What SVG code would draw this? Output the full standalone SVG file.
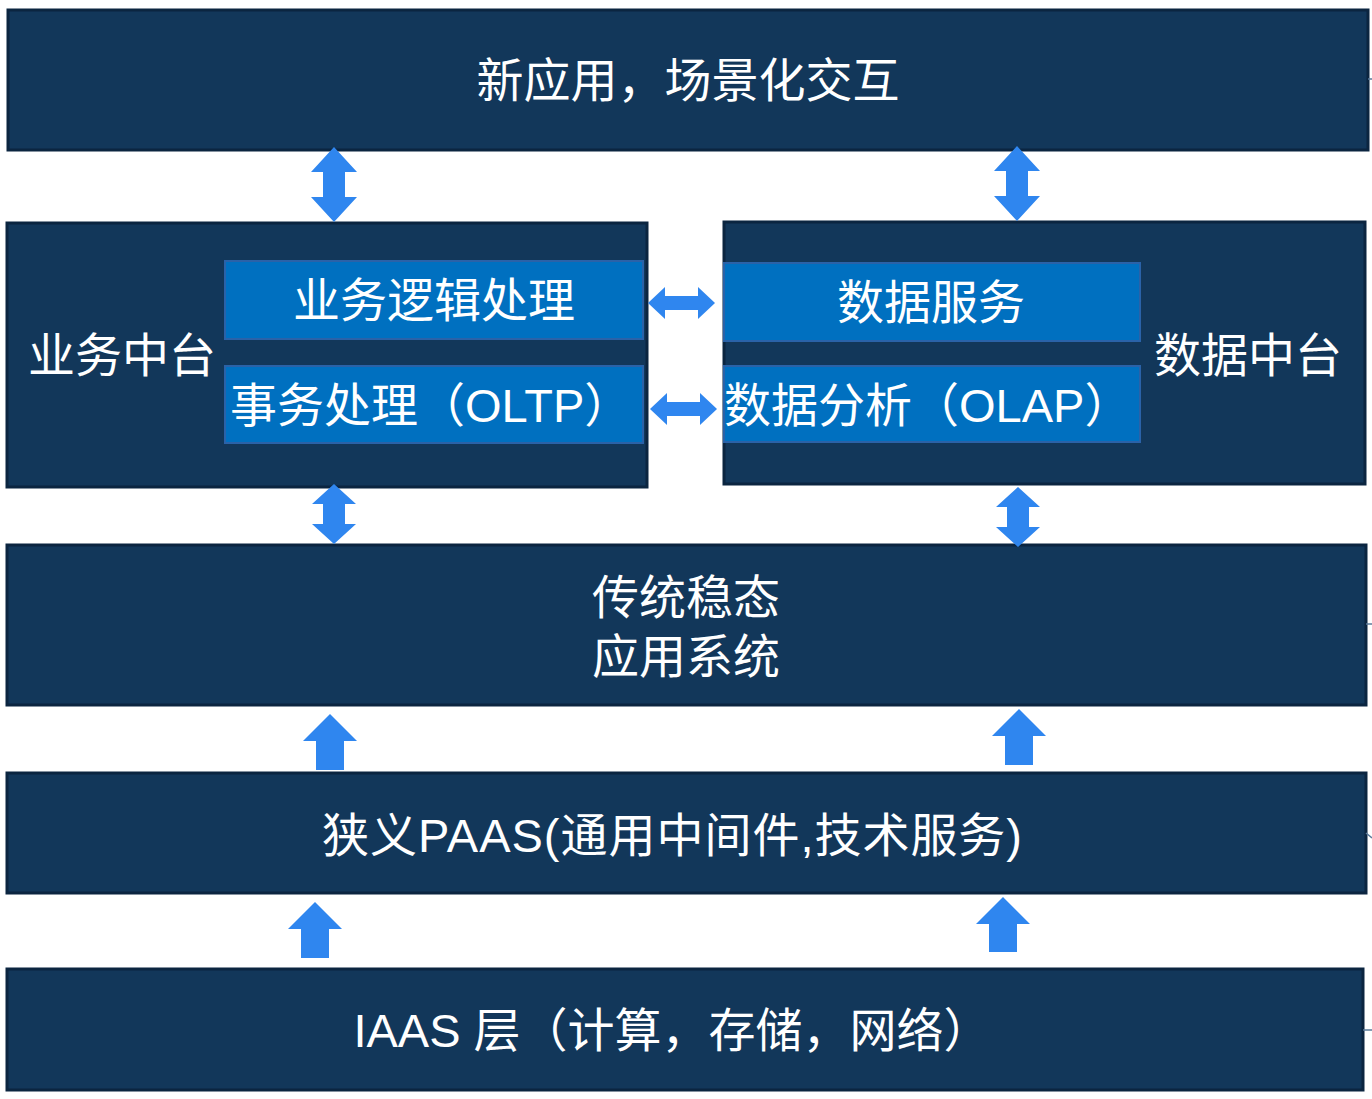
<svg xmlns="http://www.w3.org/2000/svg" width="1372" height="1099" viewBox="0 0 1372 1099">
<style>
.box{fill:#12375a;stroke:#0b2540;stroke-width:3}
.inner{fill:#0070c0;stroke:#2a62a8;stroke-width:2}
.t{fill:#ffffff;font-family:"Liberation Sans","Noto Sans CJK SC",sans-serif;font-size:47px;text-anchor:middle;dominant-baseline:central}
.arr{fill:#2f86ef}
.stub{stroke:#5a7a9a;stroke-width:1.5}
</style>
<rect width="1372" height="1099" fill="#ffffff"/>
<g id="top">
<rect class="box" x="8" y="10" width="1360" height="140"/>
<text class="t" x="688" y="80">新应用，场景化交互</text>
</g>
<g id="biz">
<rect class="box" x="7" y="223" width="640" height="264"/>
<text class="t" x="122" y="355">业务中台</text>
</g>
<g id="biz-logic">
<rect class="inner" x="225" y="261" width="418" height="78"/>
<text class="t" x="434" y="300">业务逻辑处理</text>
</g>
<g id="oltp">
<rect class="inner" x="225" y="366" width="418" height="77"/>
<text class="t" x="230" y="405" style="text-anchor:start">事务处理（OLTP）</text>
</g>
<g id="data">
<rect class="box" x="724" y="222" width="641" height="262"/>
<text class="t" x="1248" y="355">数据中台</text>
</g>
<g id="data-svc">
<rect class="inner" x="724" y="263" width="416" height="78"/>
<text class="t" x="931" y="302">数据服务</text>
</g>
<g id="olap">
<rect class="inner" x="724" y="366" width="416" height="76"/>
<text class="t" x="724" y="405" style="text-anchor:start">数据分析（OLAP）</text>
</g>
<g id="legacy">
<rect class="box" x="7" y="545" width="1359" height="160"/>
<text class="t" x="686" y="597">传统稳态</text>
<text class="t" x="686" y="656">应用系统</text>
</g>
<g id="paas">
<rect class="box" x="7" y="773" width="1359" height="120"/>
<text class="t" x="672" y="835" textLength="700" lengthAdjust="spacing">狭义PAAS(通用中间件,技术服务)</text>
</g>
<g id="iaas">
<rect class="box" x="7" y="969" width="1356" height="121"/>
<text class="t" x="672" y="1030">IAAS 层（计算，存储，网络）</text>
</g>
<g id="connectors">
<path class="arr" d="M334,147 L357,172 L345,172 L345,197 L357,197 L334,222 L311,197 L323,197 L323,172 L311,172 Z"/>
<path class="arr" d="M1017,146 L1040,171 L1028,171 L1028,196 L1040,196 L1017,221 L994,196 L1006,196 L1006,171 L994,171 Z"/>
<path class="arr" d="M648,303 L665,287 L665,296 L698,296 L698,287 L715,303 L698,319 L698,310 L665,310 L665,319 Z"/>
<path class="arr" d="M650,409 L667,393 L667,402 L700,402 L700,393 L717,409 L700,425 L700,416 L667,416 L667,425 Z"/>
<path class="arr" d="M334,484 L356,504 L345,504 L345,524 L356,524 L334,544 L312,524 L323,524 L323,504 L312,504 Z"/>
<path class="arr" d="M1018,487 L1040,507 L1029,507 L1029,527 L1040,527 L1018,547 L996,527 L1007,527 L1007,507 L996,507 Z"/>
<path class="arr" d="M330,714 L357,741 L344,741 L344,770 L316,770 L316,741 L303,741 Z"/>
<path class="arr" d="M1019,709 L1046,736 L1033,736 L1033,765 L1005,765 L1005,736 L992,736 Z"/>
<path class="arr" d="M315,902 L342,929 L329,929 L329,958 L301,958 L301,929 L288,929 Z"/>
<path class="arr" d="M1003,897 L1030,924 L1017,924 L1017,952 L989,952 L989,924 L976,924 Z"/>
<line class="stub" x1="1368" y1="79" x2="1372" y2="79"/>
<line class="stub" x1="1366" y1="624" x2="1372" y2="624"/>
<line class="stub" x1="1366" y1="833" x2="1372" y2="838"/>
<line class="stub" x1="1363" y1="1030" x2="1372" y2="1030"/>
</g>
</svg>
